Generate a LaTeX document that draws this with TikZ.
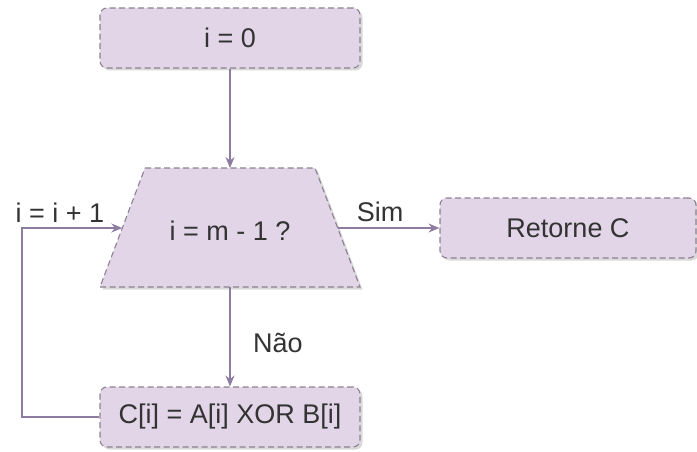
\documentclass[tikz,border=0pt]{standalone}
\usepackage{fontspec}
\setmainfont{Liberation Sans}
\usetikzlibrary{shadows,arrows.meta}
\definecolor{boxfill}{HTML}{E1D5E7}
\definecolor{boxline}{HTML}{8C8290}
\definecolor{arrcol}{HTML}{8E7CA0}
\definecolor{txt}{HTML}{333333}
\tikzset{
  x=1pt, y=-1pt,
  shapebase/.style={draw=boxline, fill=boxfill, line width=1.1pt,
    dash pattern=on 6pt off 3.5pt, text=txt,
    font=\fontsize{27}{31}\selectfont,
    drop shadow={opacity=0.3, shadow xshift=2.5pt, shadow yshift=-2.5pt}},
  procbox/.style={shapebase, rounded corners=7pt, minimum width=260pt, minimum height=60pt, inner sep=0pt},
  arr/.style={draw=arrcol, line width=1.3pt, -{Stealth[length=11pt,width=9pt]}},
  lbl/.style={text=txt, font=\fontsize{27}{31}\selectfont, inner sep=0pt}
}
\begin{document}
\begin{tikzpicture}
\useasboundingbox (0,0) rectangle (697,452);
\node[procbox] (start) at (230,38) {i = 0};
% decision trapezoid
\coordinate (decTL) at (145,168);
\coordinate (decTR) at (315,168);
\coordinate (decBR) at (360,287);
\coordinate (decBL) at (100,287);
\path[shapebase] (decTL) -- (decTR) -- (decBR) -- (decBL) -- cycle;
\node[lbl] (dec) at (230,231) {i = m - 1 ?};
\coordinate (decN) at (230,168);
\coordinate (decS) at (230,287);
\coordinate (decW) at (122.3,228);
\coordinate (decE) at (337.7,228);
\node[procbox, minimum width=256pt] (ret) at (568,228) {Retorne C};
\node[procbox] (body) at (230,417) {C[i] = A[i] XOR B[i]};
\coordinate (loopc) at (22,417);
\draw[arr] (start.south) -- (decN);
\draw[arr] (decE) -- (ret.west);
\draw[arr] (decS) -- (body.north);
\draw[arr] (body.west) -- (loopc) |- (decW);
\node[lbl] (lsim) at (380,212) {Sim};
\node[lbl] (lnao) at (278,343) {Não};
\node[lbl] (linc) at (60,213) {i = i + 1};
\end{tikzpicture}
\end{document}
